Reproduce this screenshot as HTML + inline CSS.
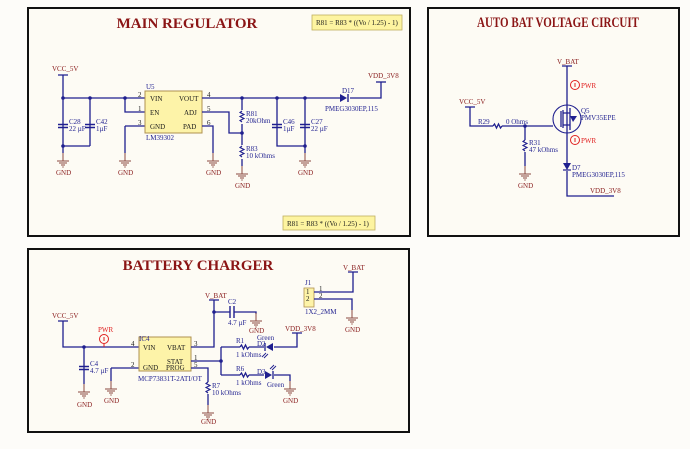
<!DOCTYPE html>
<html><head><meta charset="utf-8"><style>
html,body{margin:0;padding:0;background:#fdfcf9;}
svg{display:block;font-family:"Liberation Serif",serif;}
.w{stroke:#1f1f8f;stroke-width:1.3;fill:none}
.t{font-size:7px;fill:#1f1f8f}
.n{font-size:7px;fill:#8b2020}
.r{font-size:7px;fill:#e02020}
.ttl{font-size:15px;font-weight:bold;fill:#8b1515;text-anchor:middle}
.ic{fill:#fdf3a8;stroke:#b09050;stroke-width:1}
.p{font-size:7px;fill:#1a1a1a}
</style></head><body>
<svg width="690" height="449" viewBox="0 0 690 449">
<defs>
<g id="gnd"><path d="M0,-8V0M-6,0H6M-4,2H4M-2,4H2M-0.7,6H0.7" stroke="#8a4a40" stroke-width="1" fill="none"/></g>
<g id="capv"><path d="M-5,-1.5H5M-5,1.5H5" stroke="#1f1f8f" stroke-width="1.4" fill="none"/></g>
<g id="resv"><path d="M0,-6L-2,-4.5L2,-2.5L-2,-0.5L2,1.5L-2,3.5L0,5" stroke="#1f1f8f" stroke-width="1.1" fill="none"/></g>
<g id="dot"><circle r="1.8" fill="#1f1f8f"/></g>
<g id="pwr"><circle r="4.5" fill="none" stroke="#e02020" stroke-width="1"/><path d="M0,-2V2" stroke="#e02020" stroke-width="1"/></g>
</defs>
<rect x="28" y="8" width="382" height="228" fill="#fdfbf4" stroke="#111" stroke-width="2"/>
<rect x="428" y="8" width="251" height="228" fill="#fdfbf4" stroke="#111" stroke-width="2"/>
<rect x="28" y="249" width="381" height="183" fill="#fdfbf4" stroke="#111" stroke-width="2"/>

<!-- MAIN REGULATOR -->
<text class="ttl" x="187" y="28">MAIN REGULATOR</text>
<rect x="312" y="15" width="90" height="15" fill="#fdf4a0" stroke="#c0b060" stroke-width="0.8"/>
<text class="p" x="316" y="25" font-size="6.5">R81 = R83 * ((Vo / 1.25) - 1)</text>
<rect x="283" y="216" width="92" height="14" fill="#fdf4a0" stroke="#c0b060" stroke-width="0.8"/>
<text class="p" x="287" y="226" font-size="6.5">R81 = R83 * ((Vo / 1.25) - 1)</text>
<text class="n" x="52" y="71">VCC_5V</text>
<path class="w" d="M58,75H68M63,75V146M63,98H145M90,98V146M63,146H90M63,146V153M125,98V112H145M125,126H145V126M125,126V153"/>
<use href="#dot" x="63" y="98"/><use href="#dot" x="90" y="98"/><use href="#dot" x="125" y="98"/><use href="#dot" x="63" y="146"/>
<use href="#capv" x="63" y="126"/><use href="#capv" x="90" y="126"/>
<text class="t" x="69" y="124">C28</text><text class="t" x="69" y="131">22 µF</text>
<text class="t" x="96" y="124">C42</text><text class="t" x="96" y="131">1µF</text>
<use href="#gnd" x="63" y="161"/><text class="n" x="56" y="175">GND</text>
<use href="#gnd" x="125" y="161"/><text class="n" x="118" y="175">GND</text>
<rect class="ic" x="145" y="91" width="57" height="42"/>
<text class="t" x="146" y="89">U5</text><text class="t" x="146" y="140">LM39302</text>
<text class="p" x="150" y="101">VIN</text><text class="p" x="150" y="115">EN</text><text class="p" x="150" y="129">GND</text>
<text class="p" x="179" y="101">VOUT</text><text class="p" x="184" y="115">ADJ</text><text class="p" x="183" y="129">PAD</text>
<text class="p" x="138" y="97">2</text><text class="p" x="138" y="111">1</text><text class="p" x="138" y="125">3</text>
<text class="p" x="207" y="97">4</text><text class="p" x="207" y="111">5</text><text class="p" x="207" y="125">6</text>
<path class="w" d="M202,98H340M350,98H381V82M202,112H229V133H242M202,126H213V153M242,98V166M277,98V146H305M305,98V153"/>
<use href="#dot" x="242" y="98"/><use href="#dot" x="277" y="98"/><use href="#dot" x="305" y="98"/><use href="#dot" x="242" y="133"/><use href="#dot" x="305" y="146"/>
<path d="M340,94V102L347,98Z" fill="#1f1f8f"/><path d="M348,94V102" stroke="#1f1f8f" stroke-width="1.4"/>
<text class="t" x="342" y="93">D17</text><text class="t" x="325" y="111">PMEG3030EP,115</text>
<text class="n" x="368" y="78">VDD_3V8</text><path class="w" d="M376,82H386" stroke-width="1"/>
<rect x="238" y="110" width="8" height="14" fill="#fdfbf4"/><use href="#resv" x="242" y="117"/>
<rect x="238" y="145" width="8" height="14" fill="#fdfbf4"/><use href="#resv" x="242" y="152"/>
<text class="t" x="246" y="116">R81</text><text class="t" x="246" y="123">20kOhm</text>
<text class="t" x="246" y="151">R83</text><text class="t" x="246" y="158">10 kOhms</text>
<use href="#capv" x="277" y="126"/><use href="#capv" x="305" y="126"/>
<text class="t" x="283" y="124">C46</text><text class="t" x="283" y="131">1µF</text>
<text class="t" x="311" y="124">C27</text><text class="t" x="311" y="131">22 µF</text>
<use href="#gnd" x="213" y="161"/><text class="n" x="206" y="175">GND</text>
<use href="#gnd" x="242" y="174"/><text class="n" x="235" y="188">GND</text>
<use href="#gnd" x="305" y="161"/><text class="n" x="298" y="175">GND</text>

<!-- AUTO BAT -->
<text class="ttl" x="558" y="27" font-size="11.5" textLength="162" lengthAdjust="spacingAndGlyphs">AUTO BAT VOLTAGE CIRCUIT</text>
<text class="n" x="557" y="64">V_BAT</text>
<path class="w" d="M567,66V163M567,171V196H614M562,66H572"/>
<text class="n" x="590" y="193">VDD_3V8</text>
<use href="#pwr" x="575" y="85"/><text class="r" x="581" y="88">PWR</text>
<use href="#pwr" x="575" y="140"/><text class="r" x="581" y="143">PWR</text>
<circle cx="567" cy="119" r="14" fill="none" stroke="#1f1f8f" stroke-width="1.1"/>
<path class="w" d="M561,111V127M563,110V128M563,113H570M563,125H570M570,108V130" stroke-width="0.9"/>
<path d="M570,116H577L573,122Z" fill="#1f1f8f"/>
<text class="t" x="581" y="113">Q5</text><text class="t" x="581" y="120">PMV35EPE</text>
<path d="M563,163H571L567,170Z" fill="#1f1f8f"/><path d="M563,170H571" stroke="#1f1f8f" stroke-width="1.2"/>
<text class="t" x="572" y="170">D7</text><text class="t" x="572" y="177">PMEG3030EP,115</text>
<text class="n" x="459" y="104">VCC_5V</text>
<path class="w" d="M465,107H475M470,107V126H493M502,126H553M525,126V140M525,152V166"/>
<path class="w" d="M493,126L494.5,124L496.5,128L498.5,124L500.5,128L502,126" stroke-width="1.1"/>
<use href="#dot" x="525" y="126"/>
<text class="t" x="478" y="124">R29</text><text class="t" x="506" y="124">0 Ohms</text>
<use href="#resv" x="525" y="146"/>
<text class="t" x="529" y="145">R31</text><text class="t" x="529" y="152">47 kOhms</text>
<use href="#gnd" x="525" y="174"/><text class="n" x="518" y="188">GND</text>

<!-- BATTERY CHARGER -->
<text class="ttl" x="198" y="270">BATTERY CHARGER</text>
<text class="n" x="52" y="318">VCC_5V</text>
<path class="w" d="M58,321H68M63,321V347H139M84,347V384M111,368H139M111,368V381"/>
<use href="#dot" x="84" y="347"/>
<use href="#pwr" x="104" y="339"/><path d="M104,344V347" stroke="#e02020"/><text class="r" x="98" y="332">PWR</text>
<use href="#capv" x="84" y="368"/><text class="t" x="90" y="366">C4</text><text class="t" x="90" y="373">4.7 µF</text>
<use href="#gnd" x="84" y="392"/><text class="n" x="77" y="407">GND</text>
<use href="#gnd" x="111" y="389"/><text class="n" x="104" y="403">GND</text>
<rect class="ic" x="139" y="337" width="52" height="34"/>
<text class="t" x="139" y="341">IC4</text><text class="t" x="138" y="381">MCP73831T-2ATI/OT</text>
<text class="p" x="143" y="350">VIN</text><text class="p" x="143" y="370">GND</text>
<text class="p" x="167" y="350">VBAT</text><text class="p" x="167" y="364">STAT</text><text class="p" x="166" y="370">PROG</text>
<text class="p" x="131" y="346">4</text><text class="p" x="131" y="367">2</text>
<text class="p" x="194" y="346">3</text><text class="p" x="194" y="360">1</text><text class="p" x="194" y="367">5</text>
<path class="w" d="M191,347H214V300M209,300H219M214,312H230M234,312H256V314M191,361H221M221,347V375M221,347H240M249,347H264M274,347H297V333M292,333H302M221,375H240M249,375H264M274,375H290V381M191,368H208V382M208,394V405"/>
<use href="#dot" x="214" y="312"/><use href="#dot" x="221" y="361"/>
<path d="M230,306V318M234,306V318" stroke="#1f1f8f" stroke-width="1.4"/>
<text class="n" x="205" y="298">V_BAT</text>
<text class="t" x="228" y="304">C2</text><text class="t" x="228" y="325">4.7 µF</text>
<use href="#gnd" x="256" y="321"/><text class="n" x="249" y="333">GND</text>
<path class="w" d="M240,347L241.5,345L243.5,349L245.5,345L247.5,349L249,347M240,375L241.5,373L243.5,377L245.5,373L247.5,377L249,375" stroke-width="1.1"/>
<text class="t" x="236" y="343">R1</text><text class="t" x="236" y="357">1 kOhms</text>
<text class="t" x="236" y="371">R6</text><text class="t" x="236" y="385">1 kOhms</text>
<path d="M273,343V351L266,347Z" fill="#1f1f8f"/><path d="M265,343V351" stroke="#1f1f8f" stroke-width="1.3"/>
<path d="M265,371V379L272,375Z" fill="#1f1f8f"/><path d="M273,371V379" stroke="#1f1f8f" stroke-width="1.3"/>
<path d="M262,357L266,353M264,358L268,354M270,369L274,365M272,370L276,366" stroke="#1f1f8f" stroke-width="0.9"/>
<text class="t" x="257" y="340">Green</text><text class="t" x="257" y="346">D2</text>
<text class="t" x="257" y="374">D3</text><text class="t" x="267" y="387">Green</text>
<text class="n" x="285" y="331">VDD_3V8</text>
<use href="#gnd" x="290" y="389"/><text class="n" x="283" y="403">GND</text>
<use href="#resv" x="208" y="388"/><text class="t" x="212" y="388">R7</text><text class="t" x="212" y="395">10 kOhms</text>
<use href="#gnd" x="208" y="413"/><text class="n" x="201" y="424">GND</text>
<rect x="304" y="288" width="10" height="19" fill="#fdf3a8" stroke="#b09050" stroke-width="0.8"/>
<text class="p" x="306" y="294" font-size="6">1</text><text class="p" x="306" y="301" font-size="6">2</text>
<text class="t" x="305" y="285">J1</text><text class="t" x="305" y="314">1X2_2MM</text>
<path class="w" d="M314,292H353V272M348,272H358M314,299H352V310"/>
<text class="p" x="319" y="291" font-size="6">1</text><text class="p" x="319" y="298" font-size="6">2</text>
<text class="n" x="343" y="270">V_BAT</text>
<use href="#gnd" x="352" y="318"/><text class="n" x="345" y="332">GND</text>
</svg>
</body></html>
